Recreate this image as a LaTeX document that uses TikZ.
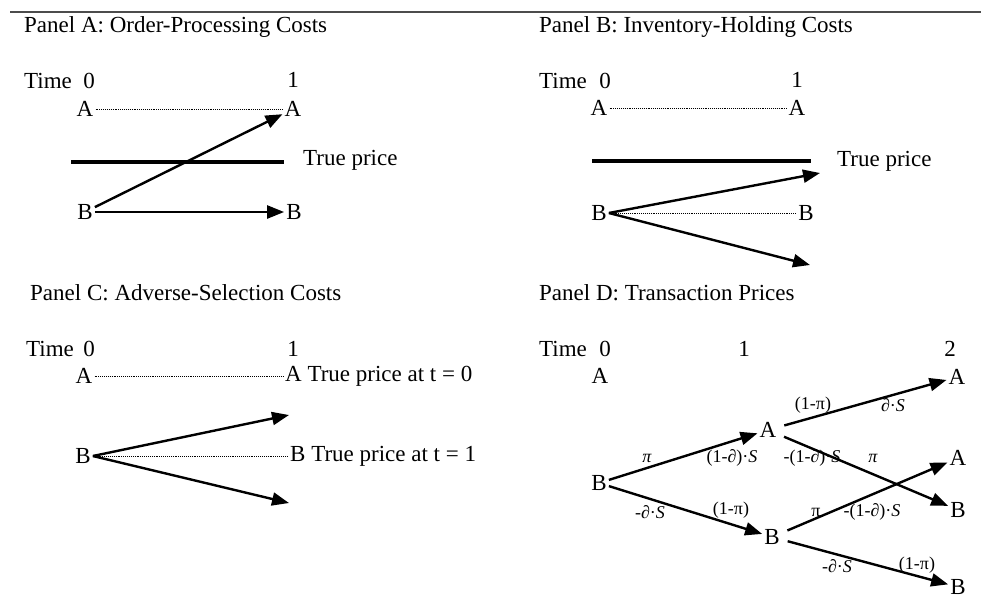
\documentclass[tikz,border=0pt]{standalone}
\usepackage{fontspec}
\setmainfont{Liberation Serif}
\usetikzlibrary{arrows.meta}
\tikzset{
  txt/.style={font=\fontsize{23}{27}\selectfont, inner sep=2pt},
  lbl/.style={font=\fontsize{18}{21}\selectfont, inner sep=0pt},
  arr/.style={line width=2.4pt, -{Triangle[length=17pt,width=13pt]}},
  dots/.style={line width=0.9pt, densely dotted},
  truep/.style={line width=3.6pt},
}
\begin{document}
\begin{tikzpicture}[x=1pt,y=-1pt]
\useasboundingbox (0,0) rectangle (981,598);
\draw[line width=1.4pt, black!70] (10,12) -- (981,12);
% Panel A
\node[txt,anchor=west] (aTitle) at (22,27) {Panel A: Order-Processing Costs};
\node[txt,anchor=west] (aTime) at (22,81) {Time};
\node[txt] (aT0) at (89,81) {0};
\node[txt] (aT1) at (293,80) {1};
\node[txt] (aA0) at (85,109) {A};
\node[txt] (aA1) at (293,109) {A};
\node[txt] (aB0) at (85,212) {B};
\node[txt] (aB1) at (294,212) {B};
\node[txt,anchor=west] (aTrue) at (301,160) {True price};
\coordinate (aL) at (71,162);
\coordinate (aR) at (284,162);
\draw[dots] (aA0) -- (aA1);
\draw[truep] (aL) -- (aR);
\draw[arr] (aB0) -- (aA1);
\draw[arr] (aB0) -- (aB1);
% Panel B
\node[txt,anchor=west] (bTitle) at (537,27) {Panel B: Inventory-Holding Costs};
\node[txt,anchor=west] (bTime) at (537,81) {Time};
\node[txt] (bT0) at (605,81) {0};
\node[txt] (bT1) at (797,80) {1};
\node[txt] (bA0) at (599,108) {A};
\node[txt] (bA1) at (797,108) {A};
\node[txt] (bB0) at (599,213) {B};
\node[txt] (bB1) at (806,213) {B};
\node[txt,anchor=west] (bTrue) at (835,161) {True price};
\coordinate (bL) at (592,161);
\coordinate (bR) at (811,161);
\coordinate (bUp) at (820,173);
\coordinate (bDn) at (810,265);
\draw[dots] (bA0) -- (bA1);
\draw[truep] (bL) -- (bR);
\draw[dots] (bB0) -- (bB1);
\draw[arr] (bB0.east) -- (bUp);
\draw[arr] (bB0.east) -- (bDn);
% Panel C
\node[txt,anchor=west] (cTitle) at (28,293) {Panel C: Adverse-Selection Costs};
\node[txt,anchor=west] (cTime) at (24,349) {Time};
\node[txt] (cT0) at (89,349) {0};
\node[txt] (cT1) at (293,349) {1};
\node[txt] (cA0) at (84,376) {A};
\node[txt,anchor=west] (cA1) at (283,376) {A True price at t = 0};
\node[txt] (cB0) at (83,456) {B};
\node[txt,anchor=west] (cB1) at (288,456) {B True price at t = 1};
\coordinate (cUp) at (289,415);
\coordinate (cDn) at (289,503);
\draw[dots] (cA0.east) -- (cA1.west);
\draw[dots] (cB0.east) -- (cB1.west);
\draw[arr] (cB0.east) -- (cUp);
\draw[arr] (cB0.east) -- (cDn);
% Panel D
\node[txt,anchor=west] (dTitle) at (537,293) {Panel D: Transaction Prices};
\node[txt,anchor=west] (dTime) at (537,349) {Time};
\node[txt] (dT0) at (605,349) {0};
\node[txt] (dT1) at (744,349) {1};
\node[txt] (dT2) at (950,349) {2};
\node[txt] (dA0) at (600,376) {A};
\node[txt] (dB0) at (599,483) {B};
\node[txt] (dA1) at (768,430) {A};
\node[txt] (dB1) at (772,537) {B};
\node[txt] (dA2) at (957,377) {A};
\node[txt] (dA3) at (958,458) {A};
\node[txt] (dB2) at (958,510) {B};
\node[txt] (dB3) at (958,587) {B};
\draw[arr] (dB0) -- (dA1);
\draw[arr] (dB0) -- (dB1);
\draw[arr,shorten <=6pt] (dA1) -- (dA2);
\draw[arr,shorten <=6pt] (dA1) -- (dB2);
\draw[arr,shorten <=6pt] (dB1) -- (dA3);
\draw[arr,shorten <=6pt] (dB1) -- (dB3);
\node[lbl] (l1) at (647,458) {\textit{π}};
\node[lbl] (l2) at (732,458) {(1-\textit{∂})·\textit{S}};
\node[lbl] (l3) at (650,512) {-\textit{∂}·\textit{S}};
\node[lbl] (l4) at (731,510) {(1-π)};
\node[lbl] (l5) at (813,405) {(1-π)};
\node[lbl] (l6) at (893,405) {\textit{∂}·\textit{S}};
\node[lbl] (l7) at (812,458) {-(1-\textit{∂})·\textit{S}};
\node[lbl] (l8) at (873,458) {\textit{π}};
\node[lbl] (l9) at (816,512) {π};
\node[lbl] (l10) at (872,512) {-(1-\textit{∂})·\textit{S}};
\node[lbl] (l11) at (837,566) {-\textit{∂}·\textit{S}};
\node[lbl] (l12) at (917,565) {(1-π)};
\end{tikzpicture}
\end{document}
